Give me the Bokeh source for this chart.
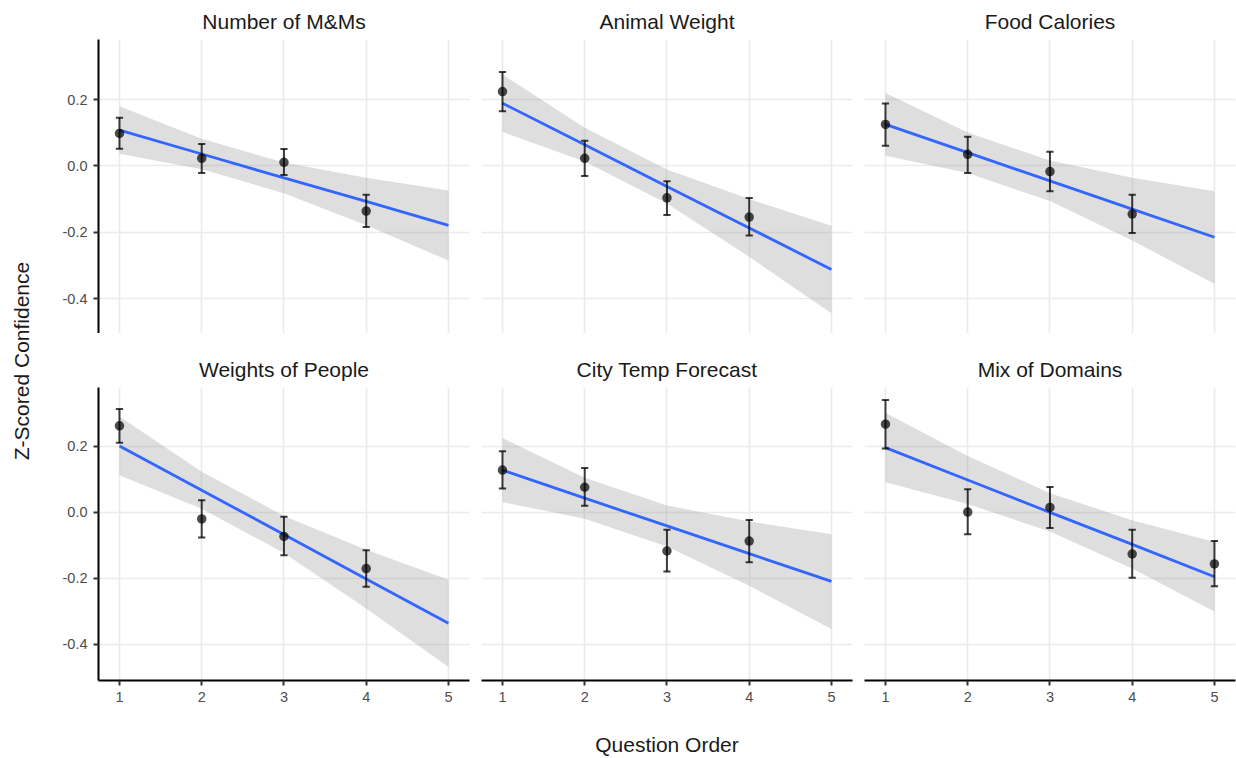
import math
from bokeh.plotting import figure
from bokeh.layouts import row, column
from bokeh.models import Range1d, FixedTicker, PrintfTickFormatter, Grid, ColumnDataSource
from bokeh.embed import file_html
from bokeh.resources import INLINE

FONT = "Liberation Sans"

# ---------------- data ----------------
panel_titles = ["Number of M&Ms", "Animal Weight", "Food Calories",
                "Weights of People", "City Temp Forecast", "Mix of Domains"]
x_ticks = [1, 2, 3, 4, 5]
y_ticks = [-0.4, -0.2, 0.0, 0.2]
fit_x = [1, 2, 3, 4, 5]

mm_x = [1, 2, 3, 4]
mm_mean = [0.098, 0.023, 0.011, -0.136]
mm_lo = [0.052, -0.021, -0.027, -0.184]
mm_hi = [0.145, 0.066, 0.051, -0.087]
mm_fit = [0.108, 0.036, -0.036, -0.107, -0.179]
mm_upper = [0.180, 0.082, 0.010, -0.036, -0.074]
mm_lower = [0.037, -0.010, -0.082, -0.179, -0.285]

aw_x = [1, 2, 3, 4]
aw_mean = [0.224, 0.023, -0.096, -0.154]
aw_lo = [0.165, -0.030, -0.148, -0.210]
aw_hi = [0.283, 0.076, -0.046, -0.097]
aw_fit = [0.189, 0.064, -0.062, -0.187, -0.312]
aw_upper = [0.276, 0.115, -0.011, -0.100, -0.180]
aw_lower = [0.102, 0.013, -0.113, -0.274, -0.444]

fc_x = [1, 2, 3, 4]
fc_mean = [0.125, 0.035, -0.017, -0.145]
fc_lo = [0.061, -0.021, -0.076, -0.202]
fc_hi = [0.188, 0.088, 0.043, -0.087]
fc_fit = [0.125, 0.040, -0.045, -0.130, -0.215]
fc_upper = [0.220, 0.101, 0.016, -0.036, -0.076]
fc_lower = [0.031, -0.021, -0.106, -0.225, -0.355]

wp_x = [1, 2, 3, 4]
wp_mean = [0.262, -0.020, -0.073, -0.170]
wp_lo = [0.211, -0.076, -0.130, -0.225]
wp_hi = [0.313, 0.037, -0.013, -0.115]
wp_fit = [0.201, 0.067, -0.067, -0.202, -0.336]
wp_upper = [0.290, 0.123, -0.011, -0.113, -0.204]
wp_lower = [0.112, 0.011, -0.123, -0.291, -0.468]

ct_x = [1, 2, 3, 4]
ct_mean = [0.128, 0.076, -0.117, -0.087]
ct_lo = [0.072, 0.020, -0.179, -0.151]
ct_hi = [0.185, 0.134, -0.053, -0.023]
ct_fit = [0.128, 0.043, -0.041, -0.125, -0.209]
ct_upper = [0.225, 0.105, 0.021, -0.028, -0.066]
ct_lower = [0.031, -0.019, -0.103, -0.222, -0.353]

md_x = [1, 2, 3, 4, 5]
md_mean = [0.267, 0.001, 0.015, -0.126, -0.156]
md_lo = [0.193, -0.066, -0.047, -0.198, -0.224]
md_hi = [0.340, 0.070, 0.077, -0.053, -0.087]
md_fit = [0.196, 0.098, 0.000, -0.097, -0.195]
md_upper = [0.301, 0.171, 0.058, -0.024, -0.090]
md_lower = [0.091, 0.025, -0.058, -0.170, -0.300]

panel_data = [
    (mm_x, mm_mean, mm_lo, mm_hi, mm_fit, mm_upper, mm_lower),
    (aw_x, aw_mean, aw_lo, aw_hi, aw_fit, aw_upper, aw_lower),
    (fc_x, fc_mean, fc_lo, fc_hi, fc_fit, fc_upper, fc_lower),
    (wp_x, wp_mean, wp_lo, wp_hi, wp_fit, wp_upper, wp_lower),
    (ct_x, ct_mean, ct_lo, ct_hi, ct_fit, ct_upper, ct_lower),
    (md_x, md_mean, md_lo, md_hi, md_fit, md_upper, md_lower),
]

# ---------------- styling / layout ----------------
X_RANGE = (0.745, 5.256)
Y_RANGE_TOP = (-0.505, 0.381)
Y_RANGE_BOT = (-0.509, 0.378)
CAP = 0.044

col_w = [441, 383, 372]
col_left = [58, 0, 0]
col_right = [12, 12, 1]
row_h = [333, 425]
row_top = [39, 54]
row_bottom = [0, 76]


def style_axis(ax):
    ax.axis_line_color = "black"
    ax.axis_line_width = 2
    ax.major_tick_line_color = "#333333"
    ax.major_tick_line_width = 2
    ax.major_tick_out = 5
    ax.major_tick_in = 0
    ax.minor_tick_out = 0
    ax.minor_tick_in = 0
    ax.major_label_text_font = FONT
    ax.major_label_text_font_size = "14.5px"
    ax.major_label_text_color = "#4d4d4d"
    ax.major_label_standoff = 6


def make_panel(i):
    r, c = divmod(i, 3)
    xs, mean, lo, hi, fit, upper, lower = panel_data[i]
    yr = Y_RANGE_TOP if r == 0 else Y_RANGE_BOT
    p = figure(width=col_w[c], height=row_h[r],
               x_range=Range1d(*X_RANGE), y_range=Range1d(*yr),
               output_backend="svg", toolbar_location=None,
               x_axis_location="below" if r == 1 else None,
               y_axis_location="left" if c == 0 else None,
               min_border_left=col_left[c], min_border_right=col_right[c],
               min_border_top=row_top[r], min_border_bottom=row_bottom[r],
               title=panel_titles[i])
    p.title.align = "center"
    p.title.vertical_align = "top"
    p.title.text_font = FONT
    p.title.text_font_size = "21px"
    p.title.text_font_style = "normal"
    p.title.text_color = "#1a1a1a"
    p.title.standoff = 10
    p.outline_line_color = None
    p.background_fill_color = "white"
    p.border_fill_color = "white"

    p.center = [g for g in p.center if not isinstance(g, Grid)]
    p.add_layout(Grid(dimension=0, ticker=FixedTicker(ticks=x_ticks),
                      grid_line_color="#ebebeb", grid_line_width=1.6), "center")
    p.add_layout(Grid(dimension=1, ticker=FixedTicker(ticks=y_ticks),
                      grid_line_color="#ebebeb", grid_line_width=1.6), "center")

    if r == 1:
        ax = p.xaxis[0]
        ax.ticker = FixedTicker(ticks=x_ticks)
        style_axis(ax)
        if c == 1:
            ax.axis_label = "Question Order"
            ax.axis_label_text_font = FONT
            ax.axis_label_text_font_size = "21px"
            ax.axis_label_text_font_style = "normal"
            ax.axis_label_text_color = "#1a1a1a"
            ax.axis_label_standoff = 28
    if c == 0:
        ay = p.yaxis[0]
        ay.ticker = FixedTicker(ticks=y_ticks)
        ay.formatter = PrintfTickFormatter(format="%.1f")
        style_axis(ay)

    band = ColumnDataSource(dict(x=fit_x, fit=fit, upper=upper, lower=lower))
    p.varea(x="x", y1="lower", y2="upper", source=band,
            fill_color="#999999", fill_alpha=0.32)
    p.line(x="x", y="fit", source=band, line_color="#3366FF", line_width=2.8)

    pts = ColumnDataSource(dict(
        x=xs, mean=mean, lo=lo, hi=hi,
        xl=[v - CAP for v in xs], xr=[v + CAP for v in xs]))
    p.segment(x0="x", y0="lo", x1="x", y1="hi", source=pts,
              line_color="black", line_alpha=0.75, line_width=2)
    p.segment(x0="xl", y0="hi", x1="xr", y1="hi", source=pts,
              line_color="black", line_alpha=0.75, line_width=2)
    p.segment(x0="xl", y0="lo", x1="xr", y1="lo", source=pts,
              line_color="black", line_alpha=0.75, line_width=2)
    p.scatter(x="x", y="mean", source=pts, size=9.5,
              fill_color="black", fill_alpha=0.7, line_color=None)
    return p


panels = [make_panel(i) for i in range(6)]

# shared y-axis title: a thin figure whose left axis carries only the label
ylab = figure(width=40, height=758, x_range=Range1d(0, 1), y_range=Range1d(0, 1),
              output_backend="svg", toolbar_location=None,
              x_axis_location=None, y_axis_location="left",
              min_border_left=32, min_border_right=0,
              min_border_top=39, min_border_bottom=76)
ylab.center = [g for g in ylab.center if not isinstance(g, Grid)]
ylab.outline_line_color = None
yl = ylab.yaxis[0]
yl.ticker = FixedTicker(ticks=[])
yl.axis_line_color = None
yl.major_tick_out = 0
yl.major_tick_in = 0
yl.minor_tick_out = 0
yl.minor_tick_in = 0
yl.major_label_standoff = 0
yl.axis_label = "Z-Scored Confidence"
yl.axis_label_text_font = FONT
yl.axis_label_text_font_size = "21px"
yl.axis_label_text_font_style = "normal"
yl.axis_label_text_color = "#1a1a1a"
yl.axis_label_standoff = 0

layout = row(ylab, column(row(*panels[:3]), row(*panels[3:])))

open("out.html", "w").write(file_html(layout, INLINE))
